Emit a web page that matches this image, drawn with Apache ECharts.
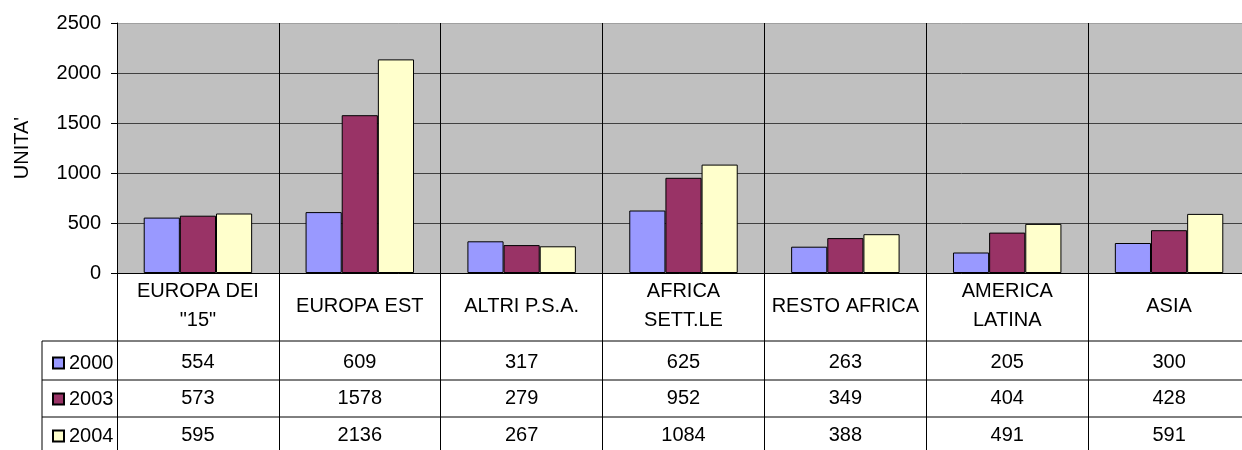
<!DOCTYPE html>
<html>
<head>
<meta charset="utf-8">
<script src="https://cdn.jsdelivr.net/npm/echarts@6/dist/echarts.min.js"></script>
<style>
  html, body { margin: 0; padding: 0; background: #fff; }
  #chart { width: 1242px; height: 450px; }
</style>
</head>
<body>
<div id="chart"></div>
<script>
// dati
const categories = ['EUROPA DEI\n"15"', 'EUROPA EST', 'ALTRI P.S.A.', 'AFRICA\nSETT.LE', 'RESTO AFRICA', 'AMERICA\nLATINA', 'ASIA']
const seriesNames = ['2000', '2003', '2004']
const values2000 = [554, 609, 317, 625, 263, 205, 300]
const values2003 = [573, 1578, 279, 952, 349, 404, 428]
const values2004 = [595, 2136, 267, 1084, 388, 491, 591]
const yTicks = [0, 500, 1000, 1500, 2000, 2500]

const seriesValues = [values2000, values2003, values2004]
const colors = ['#9999ff', '#993366', '#ffffcc']
const font = "'Liberation Sans', Arial, sans-serif"
const fs = 20

// righe della tabella (centro verticale)
const rowCenters = [362, 398, 435]
const tableLines = [341, 380, 417]

const chart = echarts.init(document.getElementById('chart'))

const option = {
  animation: false,
  textStyle: { fontFamily: font, color: '#000' },
  grid: {
    left: 117,
    top: 23,
    width: 1133,
    height: 250,
    outerBoundsMode: 'none',
    containLabel: false,
    show: true,
    backgroundColor: '#c0c0c0',
    borderWidth: 0,
  },
  legend: seriesNames.map((name, i) => ({
    data: [name],
    left: 47,
    top: rowCenters[i] - 14,
    itemWidth: 11,
    itemHeight: 11,
    icon: 'rect',
    textStyle: { fontSize: fs, fontFamily: font, color: '#000' },
  })),
  xAxis: [
    {
      type: 'category',
      data: categories,
      axisLine: { show: true, lineStyle: { color: '#000', width: 1 } },
      axisTick: { show: true, length: 177, lineStyle: { color: '#000' } },
      splitLine: { show: true, lineStyle: { color: '#000', width: 1 } },
      axisLabel: {
        interval: 0,
        fontSize: fs,
        lineHeight: 29,
        color: '#000',
        margin: 33,
        verticalAlign: 'middle',
      },
    },
    // una riga della tabella per ogni serie
    ...seriesValues.map((vals, i) => ({
      type: 'category',
      data: categories,
      position: 'bottom',
      axisLine: { show: false },
      axisTick: { show: false },
      splitLine: { show: false },
      axisLabel: {
        interval: 0,
        fontSize: fs,
        color: '#000',
        margin: rowCenters[i] - 273,
        verticalAlign: 'middle',
        formatter: (v, idx) => String(vals[idx]),
      },
    })),
  ],
  yAxis: {
    type: 'value',
    min: yTicks[0],
    max: yTicks[yTicks.length - 1],
    interval: 500,
    name: "UNITA'",
    nameLocation: 'middle',
    nameRotate: 90,
    nameGap: 85,
    nameTextStyle: { fontSize: fs, color: '#000' },
    axisLine: { show: true, lineStyle: { color: '#000' } },
    axisTick: { show: true, length: 6, lineStyle: { color: '#000' } },
    axisLabel: { fontSize: fs, color: '#000', margin: 16, formatter: v => String(v) },
    splitLine: {
      show: true,
      lineStyle: { color: ['#404040', '#404040', '#404040', '#404040', '#404040', '#a0a0a0'], width: 1 },
    },
  },
  series: seriesNames.map((name, i) => ({
    name: name,
    type: 'bar',
    data: seriesValues[i],
    barGap: '0%',
    barCategoryGap: '33%',
    itemStyle: { color: colors[i], borderColor: '#000', borderWidth: 1 },
  })),
  graphic: [
    ...tableLines.map(y => ({
      type: 'line',
      shape: { x1: 42, y1: y, x2: 1242, y2: y },
      style: { stroke: '#000', lineWidth: 1 },
      silent: true,
    })),
    {
      type: 'line',
      shape: { x1: 42, y1: 341, x2: 42, y2: 450 },
      style: { stroke: '#000', lineWidth: 1 },
      silent: true,
    },
  ],
}

chart.setOption(option)
</script>
</body>
</html>
